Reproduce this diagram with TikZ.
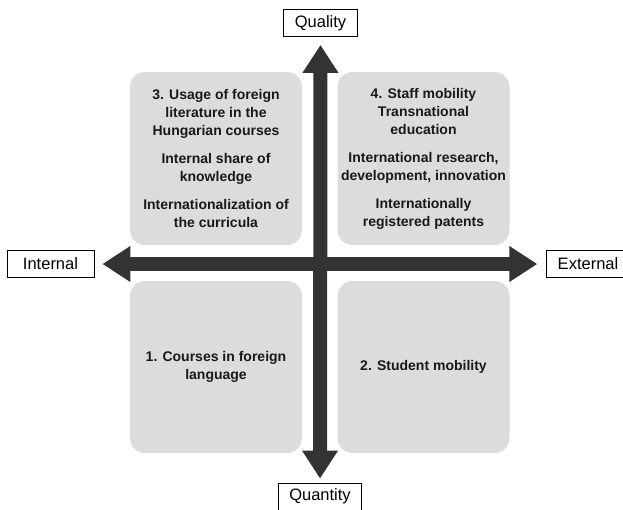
\documentclass[tikz,border=0pt]{standalone}
\usepackage{fontspec}
\setmainfont{Liberation Sans}
\usetikzlibrary{arrows.meta}

\definecolor{axisgray}{HTML}{333333}
\definecolor{fieldgray}{HTML}{DCDCDC}

\tikzset{
    pole/.style={draw, line width=0.8pt, fill=white, minimum height=27pt, inner xsep=11pt, font=\fontsize{16.5}{20}\selectfont},
    field/.style={fill=fieldgray, rounded corners=15pt, minimum width=172pt, minimum height=173pt, align=center, text=black!90, font=\bfseries\fontsize{14}{18}\selectfont},
    axisarrow/.style={draw=axisgray, line width=14pt, {Triangle[width=34pt,length=28pt]}-{Triangle[width=34pt,length=28pt]}}
}

\begin{document}
\begin{tikzpicture}[x=1pt,y=-1pt]
    \useasboundingbox (0,0) rectangle (623,509);

    % the four fields
    \node[field] (field3) at (216,158.5) {3. Usage of foreign\\literature in the\\Hungarian courses\\[10pt]Internal share of\\knowledge\\[10pt]Internationalization of\\the curricula};
    \node[field] (field4) at (423.5,158.5) {4. Staff mobility\\Transnational\\education\\[10pt]International research,\\development, innovation\\[10pt]Internationally\\registered patents};
    \node[field, minimum height=172pt] (field1) at (216,367) {1. Courses in foreign\\language};
    \node[field, minimum height=172pt] (field2) at (423.5,367) {2. Student mobility};

    % axis labels
    \node[pole] (quality) at (320.5,23) {Quality};
    \node[pole] (quantity) at (320,496.5) {Quantity};
    \node[pole, minimum width=87pt] (internal) at (50.5,264) {Internal};
    \node[pole] (external) at (588,264) {External};

    \draw[axisarrow, shorten <=8pt, shorten >=9pt] (internal) -- (external);
    \draw[axisarrow, shorten <=8pt, shorten >=4pt] (quality) -- (quantity);
\end{tikzpicture}
\end{document}
